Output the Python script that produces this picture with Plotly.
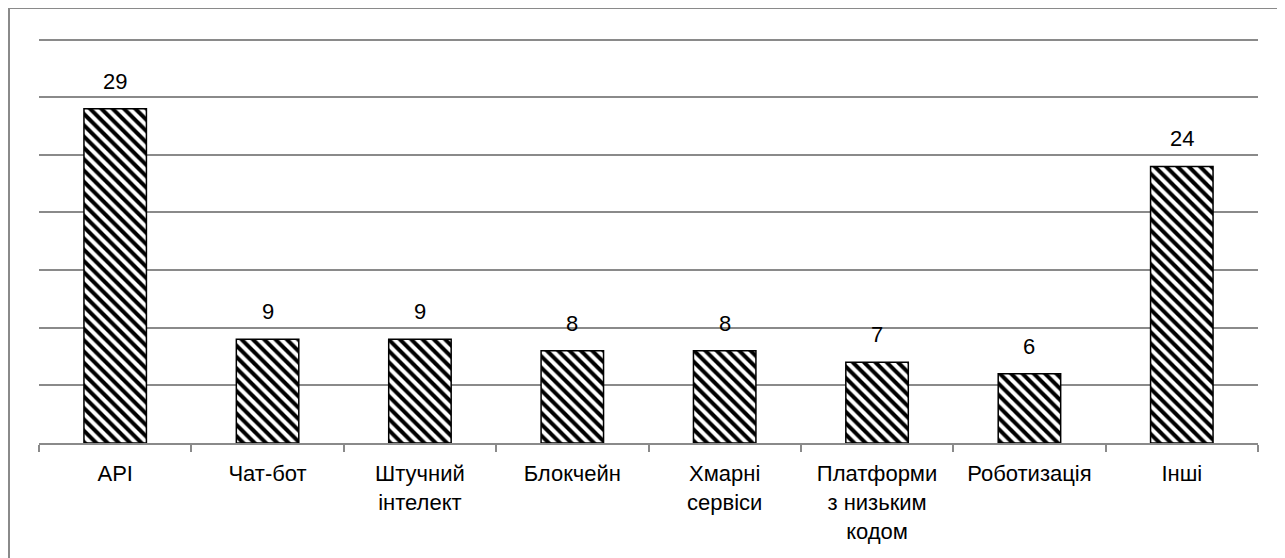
import plotly.graph_objects as go

categories = ["API", "Чат-бот", "Штучний<br>інтелект", "Блокчейн", "Хмарні<br>сервіси",
              "Платформи<br>з низьким<br>кодом", "Роботизація", "Інші"]
values = [29, 9, 9, 8, 8, 7, 6, 24]

FONT = "Liberation Sans, Arial, sans-serif"
FS = 22
W, H = 1285, 558
OFF = 8  # page offset of the figure (body margin)
# plot area in page pixels
px_left, px_right, px_base = 39, 1258, 443
y_max = 35.4
unit = (443 - 40) / 35.0
ph = y_max * unit
L = px_left - OFF
R = W - (px_right - OFF)
B = H - (px_base - OFF)
T = (px_base - OFF) - ph
pw = W - L - R

fig = go.Figure()
fig.add_trace(go.Bar(
    x=categories, y=values,
    width=0.41,
    marker=dict(color="white",
                line=dict(color="black", width=1.5),
                pattern=dict(shape="\\", fgcolor="black", bgcolor="white",
                             size=8, solidity=0.5, fillmode="replace")),
    hoverinfo="skip",
))

annotations = [dict(x=c, y=v, text=str(v), showarrow=False, xref="x", yref="y",
                    yanchor="bottom", yshift=13,
                    font=dict(size=FS, color="black", family=FONT))
               for c, v in zip(categories, values)]

gray = "#8a8a8a"
# chart frame (left and top edges visible)
x_left = (1.0 - L) / pw
y_top = (ph + T - 0.5) / ph
y_bot = -(B + 5) / ph
shapes = [
    dict(type="line", xref="paper", yref="paper", x0=x_left, x1=x_left, y0=y_bot, y1=y_top,
         line=dict(color=gray, width=2)),
    dict(type="line", xref="paper", yref="paper", x0=x_left, x1=(W + 5 - L) / pw, y0=y_top, y1=y_top,
         line=dict(color=gray, width=2)),
]

fig.update_layout(
    width=W, height=H,
    margin=dict(l=L, r=R, t=T, b=B, pad=0, autoexpand=False),
    paper_bgcolor="white", plot_bgcolor="white",
    showlegend=False,
    bargap=0.59,
    annotations=annotations,
    shapes=shapes,
    font=dict(family=FONT, size=FS, color="black"),
    xaxis=dict(showgrid=False, showline=True, linecolor=gray, linewidth=2,
               ticks="outside", tickson="boundaries", ticklen=7, tickcolor=gray, tickwidth=2,
               ticklabelstandoff=10, automargin=False,
               tickfont=dict(size=FS, color="black", family=FONT), fixedrange=True),
    yaxis=dict(range=[0, y_max], dtick=5, showgrid=True, gridcolor=gray, gridwidth=2,
               showticklabels=False, zeroline=False, showline=False, ticks="",
               automargin=False, fixedrange=True),
)

fig.write_html("out.html")
